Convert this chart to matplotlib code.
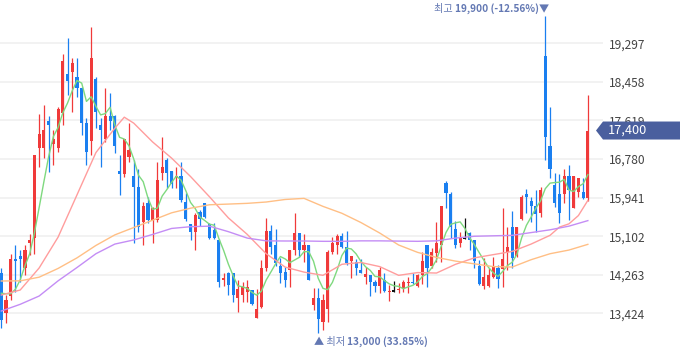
import numpy as np
import pandas as pd
import matplotlib
matplotlib.use('Agg')
import matplotlib.pyplot as plt
from matplotlib.patches import Polygon
from matplotlib.transforms import blended_transform_factory

plt.rcParams['font.family'] = ['Noto Sans CJK KR', 'DejaVu Sans']

# daily candles (KRW)
opens = [14293, 13423, 13808, 14612, 14677, 14402, 14953, 15069, 17027, 17027,
         17607, 17106, 17027, 17773, 18622, 18680, 18564, 18332, 17570, 17172,
         18513, 17520, 17215, 17715, 17715, 16519, 16461, 16831, 16410, 16178,
         15417, 15830, 15453, 15453, 16468, 16758, 16519, 16374, 16410, 15852,
         15359, 15185, 15635, 15816, 15359, 15236, 15018, 14148, 14293, 14293,
         13764, 13822, 13880, 13931, 13315, 13568, 14417, 15214, 14910, 14460,
         14315, 14366, 14801, 15163, 14801, 14910, 13605, 13764, 13242, 13518,
         14765, 14910, 15113, 14873, 14562, 14547, 14366, 14221, 14257, 14112,
         14025, 14148, 13880, 13909, 13924, 13953, 14076, 14112, 14025, 14257,
         14910, 14460, 14728, 14910, 16265, 16019, 15257, 14960, 15055, 15163,
         15018, 14460, 14025, 14025, 14221, 14417, 14381, 14765, 15294, 14670,
         15468, 16012, 15867, 15758, 15613, 19020, 17063, 16215, 16012, 16012,
         16410, 15722, 16070, 16070, 15925]
highs = [14402, 13822, 14707, 14910, 14801, 14910, 15149, 16867, 17766, 17955,
         17715, 17411, 17918, 19057, 19419, 18970, 18970, 18350, 17665, 19658,
         18571, 17665, 18317, 18208, 17730, 16867, 17215, 17556, 16758, 16563,
         15852, 15961, 15743, 16722, 17266, 16795, 16530, 16613, 16722, 16033,
         15370, 15598, 15671, 15830, 15381, 15381, 15030, 14293, 14330, 14300,
         14148, 14112, 14148, 13940, 13953, 14583, 15504, 15345, 15250, 14634,
         14438, 14801, 15598, 15170, 15142, 14920, 13982, 13982, 13837, 14801,
         15091, 15142, 15163, 15214, 14680, 14605, 14605, 14438, 14260, 14148,
         14438, 14293, 14040, 14134, 14076, 14148, 14221, 14293, 14272, 14750,
         14910, 14837, 15403, 15758, 16309, 16055, 15432, 15200, 15504, 15200,
         15020, 14583, 14620, 14402, 14656, 14475, 15707, 15294, 15649, 15294,
         15997, 16128, 15946, 16106, 16178, 19900, 17919, 16469, 16447, 16556,
         16650, 16410, 16360, 16360, 18172]
lows = [13097, 13206, 13713, 13895, 14112, 14257, 14692, 14707, 16613, 16795,
        16505, 16650, 16940, 17520, 18172, 17810, 18136, 17302, 16650, 16867,
        17447, 16613, 17157, 17411, 16903, 15997, 16396, 16722, 14946, 15200,
        14910, 15381, 14946, 15417, 16323, 16157, 16142, 16142, 15852, 15432,
        15018, 14801, 15330, 15490, 15040, 15040, 14003, 14025, 13822, 13663,
        13460, 13663, 13677, 13605, 13315, 13532, 14344, 14707, 14460, 14076,
        14003, 14003, 14692, 14656, 14547, 14148, 13496, 13000, 13061, 13242,
        14707, 14707, 14837, 14474, 14199, 14257, 14293, 14054, 13808, 13895,
        13859, 13895, 13692, 13895, 13859, 13895, 13859, 14054, 14003, 14054,
        14003, 14402, 14547, 14547, 15722, 15055, 14837, 14873, 15040, 14801,
        14402, 14040, 13953, 14003, 14185, 13967, 14003, 14366, 14402, 14656,
        15454, 15599, 15417, 15200, 15512, 16759, 16360, 15744, 15381, 15831,
        15454, 15707, 15961, 15903, 15874]
closes = [13278, 13713, 14598, 14562, 14612, 14801, 15018, 16867, 17324, 17411,
          17520, 17215, 17860, 18912, 18477, 18861, 18332, 17570, 16925, 18984,
          17810, 17411, 17715, 17607, 17070, 16461, 17215, 16976, 16178, 15308,
          15758, 15453, 15722, 16323, 16613, 16468, 16229, 16410, 15888, 15468,
          15185, 15562, 15475, 15526, 15069, 15069, 14112, 14185, 14040, 13822,
          13953, 14003, 14003, 13619, 13510, 14402, 15214, 14873, 14511, 14293,
          14148, 14801, 15163, 14801, 14910, 14148, 13764, 13300, 13713, 14765,
          14946, 15113, 14873, 14511, 14677, 14417, 14308, 14272, 14112, 14025,
          14366, 13909, 13909, 13909, 13953, 14112, 14112, 14076, 14257, 14562,
          14417, 14750, 14946, 15758, 16033, 15308, 14910, 15055, 15055, 15018,
          14562, 14054, 14221, 14257, 14438, 14163, 14598, 14859, 14620, 15294,
          15946, 15961, 15765, 15577, 16106, 17266, 16563, 15831, 15613, 16410,
          16106, 16410, 16360, 15925, 17400]

# moving averages
ma5_head = [13860, 13850, 13850, 13950]
ma20_x = [0, 4, 8, 12, 16, 20, 24, 26, 28, 32, 36, 40, 44, 48, 52, 56, 60, 64,
          68, 72, 76, 80, 84, 88, 92, 96, 100, 104, 108, 112, 116, 118, 120, 122, 124]
ma20 = [13822, 13931, 14410, 15080, 16000, 16920, 17450, 17690, 17560, 17150,
        16800, 16400, 15960, 15500, 15140, 14720, 14430, 14320, 14250, 14490,
        14530, 14440, 14250, 14310, 14300, 14489, 14630, 14700, 14770, 14930,
        15120, 15300, 15370, 15550, 15880]
ma_x = [0, 4, 8, 12, 16, 20, 24, 28, 32, 36, 40, 44, 48, 52, 56, 60, 64, 68,
        72, 76, 80, 84, 88, 92, 96, 100, 104, 108, 112, 116, 120, 124]
ma60 = [14127, 14130, 14210, 14400, 14630, 14900, 15130, 15290, 15450, 15610,
        15710, 15785, 15800, 15816, 15845, 15900, 15924, 15750, 15600, 15400,
        15170, 14910, 14750, 14640, 14560, 14500, 14440, 14430, 14590, 14720,
        14800, 14924]
ma120 = [13474, 13620, 13800, 14130, 14420, 14720, 14930, 15020, 15140, 15270,
         15308, 15320, 15200, 15060, 15000, 14997, 14997, 14990, 14990, 15000,
         15000, 14995, 14990, 15000, 15060, 15100, 15110, 15120, 15180, 15240,
         15320, 15440]

y_ticks = [13424, 14263, 15102, 15941, 16780, 17619, 18458, 19297]

df = pd.DataFrame({'open': opens, 'high': highs, 'low': lows, 'close': closes})
x = np.arange(len(df))
ma5 = df['close'].rolling(5).mean().to_numpy()
ma5[:4] = ma5_head

RED = '#f03a3a'
BLUE = '#1a7ff0'
col = np.where(df['close'] > df['open'], RED,
               np.where(df['close'] < df['open'], BLUE, '#111111'))

fig = plt.figure(figsize=(6.8, 3.58), dpi=100)
ax = fig.add_axes([0, 0, 603 / 680, 1])

ax.vlines(x, df['low'], df['high'], colors=col, lw=0.9, zorder=2)
body = np.maximum((df['close'] - df['open']).abs(), 24)
bottom = np.minimum(df['open'], df['close'])
bottom = np.where(df['close'] == df['open'], df['open'] - 12, bottom)
ax.bar(x, body, bottom=bottom, width=0.66, color=col, lw=0, zorder=3)

ax.plot(x, ma5, color='#7fd97f', lw=1.0, zorder=4)
ax.plot(ma20_x, ma20, color='#ff9d9d', lw=1.0, zorder=4)
ax.plot(ma_x, ma60, color='#ffbf85', lw=1.0, zorder=4)
ax.plot(ma_x, ma120, color='#c48df5', lw=1.0, zorder=4)

ax.set_xlim(-0.275, 127.2)
ax.set_ylim(12452, 20239)
for s in ax.spines.values():
    s.set_visible(False)
ax.set_xticks([])
ax.yaxis.tick_right()
ax.set_yticks(y_ticks, labels=[f'{v:,}' for v in y_ticks])
ax.tick_params(axis='y', length=0, pad=4, labelsize=8.6, labelcolor='#444444')
ax.grid(axis='y', color='#f0f0f0', lw=1.2)
ax.set_axisbelow(True)

# high / low labels
last = closes[-1]
hi_i = int(np.argmax(highs))
lo_i = int(np.argmin(lows))
tr = blended_transform_factory(ax.transData, ax.transAxes)
lab_col = '#6378b3'
fs = 7.3
hb = ax.text(hi_i + 0.9, 0.975, f'{highs[hi_i]:,} ({(last / highs[hi_i] - 1) * 100:.2f}%)▼',
             transform=tr, ha='right', va='center', fontsize=fs, fontweight='bold', color=lab_col)
ax.annotate('최고 ', xy=(0, 0.5), xycoords=hb, ha='right', va='center', fontsize=fs, color=lab_col)
lt = ax.text(lo_i - 0.9, 0.045, '▲ 최저 ', transform=tr, ha='left', va='center',
             fontsize=fs, color=lab_col)
ax.annotate(f'{lows[lo_i]:,} ({(last / lows[lo_i] - 1) * 100:.2f}%)', xy=(1, 0.5), xycoords=lt,
            ha='left', va='center', fontsize=fs, fontweight='bold', color=lab_col)

# current price badge (covers part of the 17,619 label, as on the original)
bt = blended_transform_factory(fig.transFigure, ax.transData)
h = 9 * (20239 - 12452) / 358
badge = Polygon([(596 / 680, last), (603 / 680, last + h), (1.0, last + h),
                 (1.0, last - h), (603 / 680, last - h)],
                closed=True, transform=bt, color='#4a5f9e', lw=0)
fig.add_artist(badge)
fig.text(608 / 680, last, f'{last:,}', transform=bt, ha='left', va='center',
         fontsize=9.2, color='white')

fig.savefig('out.png', dpi=100)
